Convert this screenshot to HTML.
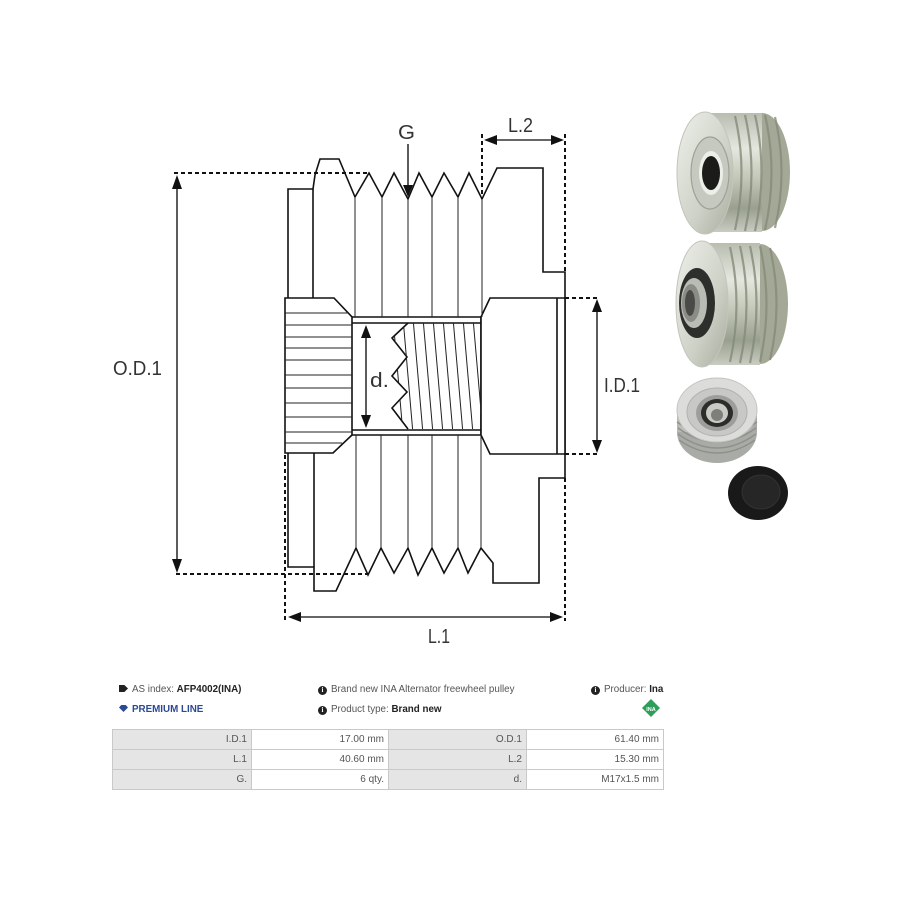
<!DOCTYPE html>
<html>
<head>
<meta charset="utf-8">
<style>
  html,body{margin:0;padding:0;background:#fff;}
  body{width:900px;height:900px;position:relative;overflow:hidden;font-family:"Liberation Sans",Arial,sans-serif;}
  .t{position:absolute;font-size:9.8px;color:#555;white-space:nowrap;line-height:12px;}
  .t b{color:#222;}
  .ic{display:inline-block;width:9px;height:9px;border-radius:50%;background:#222;color:#fff;font-size:7px;line-height:9px;text-align:center;font-weight:bold;vertical-align:0px;margin-right:4px;font-family:"Liberation Serif",serif;}
  table{position:absolute;left:112px;top:729px;border-collapse:collapse;font-size:10px;color:#555;}
  td{border:1px solid #c9c9c9;height:20px;padding:0 4px;text-align:right;box-sizing:border-box;}
  td.l{background:#e5e5e5;}
  td.v{background:#fff;}
</style>
</head>
<body>
<svg width="900" height="900" viewBox="0 0 900 900" style="position:absolute;left:0;top:0">
  <defs>
    <clipPath id="thr">
      <polygon points="408,323 392,338 407,357 392,376 407,392 392,408 408,429 481,429 481,323"/>
    </clipPath>
    <linearGradient id="gbody" x1="0" y1="0" x2="0" y2="1">
      <stop offset="0" stop-color="#b9bdb0"/>
      <stop offset="0.3" stop-color="#e4e7de"/>
      <stop offset="0.55" stop-color="#c2c7b8"/>
      <stop offset="0.8" stop-color="#9aa08f"/>
      <stop offset="1" stop-color="#c9ccc2"/>
    </linearGradient>
    <linearGradient id="gface" x1="0" y1="0" x2="1" y2="1">
      <stop offset="0" stop-color="#eef0ea"/>
      <stop offset="0.6" stop-color="#cdd1c6"/>
      <stop offset="1" stop-color="#a9ad9f"/>
    </linearGradient>
    <linearGradient id="gbody3" x1="0" y1="0" x2="1" y2="0">
      <stop offset="0" stop-color="#b5b7b2"/>
      <stop offset="0.4" stop-color="#e6e7e4"/>
      <stop offset="1" stop-color="#a6a8a3"/>
    </linearGradient>
  </defs>

  <g fill="none" stroke="#111" stroke-width="1.6" stroke-linejoin="miter">
    <polyline points="288,298 288,189 313,189 315,175 320,159 339,159 355,197 369,173 382,197 394,173 408,199 419,173 432,197 444,173 458,197 469,173 482,199 497,168 543,168 543,272 565,272 565,478 539,478 539,583 493,583 493,563 481,548 468,573 458,548 444,573 432,548 418,575 408,548 394,573 381,548 368,575 356,548 336,591 314,591 314,567 288,567 288,453"/>
    <line x1="313" y1="189" x2="313" y2="298"/>
    <line x1="314" y1="453" x2="314" y2="567"/>
    <polygon points="285,298 334,298 352,317 352,435 333,453 285,453" fill="#fff"/>
    <line x1="352" y1="317" x2="481" y2="317"/>
    <line x1="352" y1="323" x2="481" y2="323"/>
    <line x1="352" y1="430" x2="481" y2="430"/>
    <line x1="352" y1="435" x2="481" y2="435"/>
    <line x1="481" y1="317" x2="481" y2="435"/>
    <polygon points="481,317 490,298 565,298 565,454 490,454 481,435" fill="#fff"/>
    <line x1="557" y1="298" x2="557" y2="454"/>
    <polyline points="408,323 392,338 407,357 392,376 407,392 392,408 408,429"/>
  </g>
  <g stroke="#222" stroke-width="1">
    <line x1="355" y1="197" x2="355" y2="317"/>
    <line x1="382" y1="197" x2="382" y2="317"/>
    <line x1="408" y1="199" x2="408" y2="317"/>
    <line x1="432" y1="197" x2="432" y2="317"/>
    <line x1="458" y1="197" x2="458" y2="317"/>
    <line x1="482" y1="199" x2="482" y2="317"/>
    <line x1="356" y1="435" x2="356" y2="548"/>
    <line x1="381" y1="435" x2="381" y2="548"/>
    <line x1="408" y1="435" x2="408" y2="548"/>
    <line x1="432" y1="435" x2="432" y2="548"/>
    <line x1="458" y1="435" x2="458" y2="548"/>
    <line x1="481" y1="435" x2="481" y2="548"/>
    <line x1="285" y1="313" x2="348" y2="313"/>
    <line x1="285" y1="325" x2="352" y2="325"/>
    <line x1="285" y1="337" x2="352" y2="337"/>
    <line x1="285" y1="348" x2="352" y2="348"/>
    <line x1="285" y1="360" x2="352" y2="360"/>
    <line x1="285" y1="375" x2="352" y2="375"/>
    <line x1="285" y1="388" x2="352" y2="388"/>
    <line x1="285" y1="403" x2="352" y2="403"/>
    <line x1="285" y1="417" x2="352" y2="417"/>
    <line x1="285" y1="432" x2="352" y2="432"/>
    <line x1="285" y1="443" x2="342" y2="443"/>
    <g clip-path="url(#thr)">
      <line x1="393" y1="318" x2="403" y2="434"/>
      <line x1="403" y1="318" x2="413" y2="434"/>
      <line x1="413" y1="318" x2="423" y2="434"/>
      <line x1="423" y1="318" x2="433" y2="434"/>
      <line x1="433" y1="318" x2="443" y2="434"/>
      <line x1="443" y1="318" x2="453" y2="434"/>
      <line x1="453" y1="318" x2="463" y2="434"/>
      <line x1="463" y1="318" x2="473" y2="434"/>
      <line x1="473" y1="318" x2="483" y2="434"/>
    </g>
  </g>

  <g stroke="#111" stroke-width="2" stroke-dasharray="4,3" fill="none">
    <line x1="174" y1="173" x2="369" y2="173"/>
    <line x1="176" y1="574" x2="367" y2="574"/>
    <line x1="285" y1="455" x2="285" y2="621"/>
    <line x1="565" y1="478" x2="565" y2="621"/>
    <line x1="565" y1="134" x2="565" y2="272"/>
    <line x1="482" y1="134" x2="482" y2="199"/>
    <line x1="565" y1="298" x2="599" y2="298"/>
    <line x1="565" y1="454" x2="599" y2="454"/>
  </g>

  <g stroke="#333" stroke-width="1.6">
    <line x1="177" y1="180" x2="177" y2="566"/>
    <line x1="294" y1="617" x2="557" y2="617"/>
    <line x1="490" y1="140" x2="558" y2="140"/>
    <line x1="597" y1="305" x2="597" y2="447"/>
    <line x1="366" y1="331" x2="366" y2="422"/>
    <line x1="408" y1="144" x2="408" y2="190"/>
  </g>
  <g fill="#111">
    <polygon points="177,175 172,189 182,189"/>
    <polygon points="177,573 172,559 182,559"/>
    <polygon points="288,617 301,612 301,622"/>
    <polygon points="563,617 550,612 550,622"/>
    <polygon points="484,140 497,135 497,145"/>
    <polygon points="564,140 551,135 551,145"/>
    <polygon points="597,299 592,312 602,312"/>
    <polygon points="597,453 592,440 602,440"/>
    <polygon points="366,325 361,338 371,338"/>
    <polygon points="366,428 361,415 371,415"/>
    <polygon points="408,197 403,185 413,185"/>
  </g>

  <g font-family="'Liberation Sans', Arial, sans-serif" fill="#333" font-size="20">
    <text x="113" y="375" textLength="49" lengthAdjust="spacingAndGlyphs">O.D.1</text>
    <text x="604" y="392" textLength="36" lengthAdjust="spacingAndGlyphs">I.D.1</text>
    <text x="428" y="643" textLength="22" lengthAdjust="spacingAndGlyphs">L.1</text>
    <text x="508" y="132" textLength="25" lengthAdjust="spacingAndGlyphs">L.2</text>
    <text x="398" y="139" textLength="17" lengthAdjust="spacingAndGlyphs">G</text>
    <text x="370" y="387" textLength="19" lengthAdjust="spacingAndGlyphs">d.</text>
  </g>

  <g>
    <ellipse cx="762" cy="172" rx="28" ry="59" fill="#a4a997"/>
    <rect x="705" y="113" width="57" height="119" fill="url(#gbody)"/>
    <g fill="none" stroke="#858b7a" stroke-width="2.2" opacity="0.8">
      <path d="M735,116 Q748,172 735,230"/>
      <path d="M745,115 Q758,172 745,231"/>
      <path d="M755,115 Q768,172 755,231"/>
      <path d="M765,115 Q778,172 765,230"/>
      <path d="M775,117 Q788,172 775,228"/>
    </g>
    <ellipse cx="705" cy="173" rx="28" ry="61" fill="url(#gface)" stroke="#c2c5bb" stroke-width="1"/>
    <ellipse cx="710" cy="173" rx="19" ry="36" fill="#c6c9bf" stroke="#9ea295" stroke-width="1.2"/>
    <ellipse cx="711" cy="173" rx="12" ry="22" fill="#eceee8"/>
    <ellipse cx="711" cy="173" rx="9" ry="17" fill="#1b1c1a"/>
  </g>
  <g>
    <ellipse cx="760" cy="304" rx="28" ry="60" fill="#a4a997"/>
    <rect x="702" y="243" width="58" height="122" fill="url(#gbody)"/>
    <g fill="none" stroke="#858b7a" stroke-width="2.2" opacity="0.8">
      <path d="M730,247 Q743,304 730,362"/>
      <path d="M740,246 Q753,304 740,363"/>
      <path d="M750,246 Q763,304 750,363"/>
      <path d="M760,246 Q773,304 760,362"/>
      <path d="M770,248 Q783,304 770,360"/>
    </g>
    <ellipse cx="702" cy="304" rx="26" ry="63" fill="url(#gface)" stroke="#c2c5bb" stroke-width="1"/>
    <ellipse cx="697" cy="303" rx="18" ry="35" fill="#2d2f2c"/>
    <ellipse cx="694" cy="303" rx="13" ry="25" fill="#b9bcb5"/>
    <ellipse cx="691" cy="303" rx="9" ry="19" fill="#8a8c86"/>
    <ellipse cx="690" cy="303" rx="5" ry="13" fill="#4a4b48"/>
  </g>
  <g>
    <ellipse cx="717" cy="432" rx="40" ry="31" fill="#a9aba6"/>
    <rect x="677" y="410" width="80" height="22" fill="url(#gbody3)"/>
    <g fill="none" stroke="#8f918c" stroke-width="1.4">
      <path d="M679,440 Q717,466 755,440"/>
      <path d="M678,434 Q717,462 756,434"/>
      <path d="M678,428 Q717,456 756,428"/>
      <path d="M677,422 Q717,450 757,422"/>
    </g>
    <ellipse cx="717" cy="410" rx="40" ry="32" fill="#dcdddb" stroke="#c3c4c1" stroke-width="1"/>
    <ellipse cx="717" cy="412" rx="30" ry="24" fill="#c8c9c6" stroke="#b1b2ae" stroke-width="1"/>
    <ellipse cx="717" cy="413" rx="21" ry="18" fill="#9d9e9b"/>
    <ellipse cx="717" cy="413" rx="16" ry="14" fill="#2c2c2b"/>
    <ellipse cx="717" cy="413" rx="11" ry="10" fill="#c9c9c6"/>
    <ellipse cx="717" cy="415" rx="6" ry="6" fill="#7e7f7b"/>
  </g>
  <g>
    <ellipse cx="758" cy="493" rx="30" ry="27" fill="#191919"/>
    <ellipse cx="761" cy="492" rx="19" ry="17" fill="#262626" stroke="#333" stroke-width="1"/>
  </g>

  <g>
    <polygon points="651,699 660,708 651,717 642,708" fill="#2e9e5b"/>
    <text x="651" y="711" font-family="'Liberation Sans',Arial,sans-serif" font-size="5.5" font-weight="bold" fill="#fff" text-anchor="middle">INA</text>
  </g>
</svg>

<div class="t" style="left:119px;top:684px;"><span style="display:inline-block;width:9px;height:7px;background:#222;clip-path:polygon(0 0,60% 0,100% 50%,60% 100%,0 100%);margin-right:4px;"></span>AS index: <b>AFP4002(INA)</b></div>
<div class="t" style="left:119px;top:704px;color:#2b4a96;font-weight:bold;"><span style="display:inline-block;width:9px;height:7px;box-sizing:border-box;clip-path:polygon(0 35%,25% 0,75% 0,100% 35%,50% 100%);margin-right:4px;background:#2b4a96;"></span>PREMIUM LINE</div>
<div class="t" style="left:318px;top:684px;"><span class="ic">i</span>Brand new INA Alternator freewheel pulley</div>
<div class="t" style="left:318px;top:704px;"><span class="ic">i</span>Product type: <b>Brand new</b></div>
<div class="t" style="left:591px;top:684px;"><span class="ic">i</span>Producer: <b>Ina</b></div>

<table>
  <tr><td class="l" style="width:139px">I.D.1</td><td class="v" style="width:137px">17.00 mm</td><td class="l" style="width:138px">O.D.1</td><td class="v" style="width:137px">61.40 mm</td></tr>
  <tr><td class="l">L.1</td><td class="v">40.60 mm</td><td class="l">L.2</td><td class="v">15.30 mm</td></tr>
  <tr><td class="l">G.</td><td class="v">6 qty.</td><td class="l">d.</td><td class="v">M17x1.5 mm</td></tr>
</table>
</body>
</html>
